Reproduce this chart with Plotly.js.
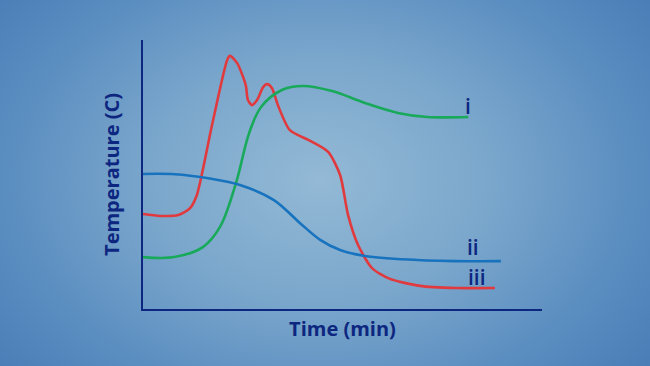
<!DOCTYPE html>
<html>
<head>
<meta charset="utf-8">
<script src="https://cdn.plot.ly/plotly-3.0.1.min.js"></script>
<style>
html,body{margin:0;padding:0;width:650px;height:366px;overflow:hidden;}
body{background:radial-gradient(ellipse 420px 300px at 320px 180px,#93b9d5 0%,#7ba7cc 40%,#5a8dc0 75%,#4a7db6 100%);}
#chart{width:650px;height:366px;}
</style>
</head>
<body>
<div id="chart"></div>
<script>
// Curves (x: time units 0-100, y: temperature units 0-100)
const redX   = [0, 4.3, 8.8, 11.8, 13.5, 17.3, 21.1, 21.8, 23.6, 25.1, 25.8, 26.3, 27.3, 28.6, 30.1, 31.1, 32.3, 33.8, 36.8, 41.9, 46.4, 49.4, 51.4, 53.9, 57.4, 61.9, 69.4, 78.4, 88.2];
const redY   = [35.3, 34.6, 34.9, 37.5, 42.4, 68.4, 92.6, 94.1, 91.4, 86.2, 82.9, 77.7, 75.8, 77.7, 82.5, 83.6, 82.2, 75.8, 66.5, 62.5, 58.4, 49.8, 34.9, 23.8, 15.2, 11.2, 8.6, 7.8, 7.8];
const greenX = [0, 7.8, 15, 19.3, 23.3, 26.6, 29.6, 34.8, 40.1, 47.4, 55.6, 63.9, 71.2, 81.5];
const greenY = [19.3, 19.3, 23.0, 30.5, 46.8, 65.4, 75.1, 81.4, 82.9, 81.0, 76.6, 72.9, 71.4, 71.4];
const blueX  = [0, 8, 16, 24.3, 32.8, 39.3, 44.4, 49.4, 55.6, 65, 78, 89.7];
const blueY  = [50.2, 50.1, 48.7, 46.1, 40.5, 32.0, 25.7, 21.9, 19.7, 18.5, 17.8, 17.8];
const labelText = ["i", "ii", "iii"];
const labelX = [81.5, 82.7, 83.7];
const labelY = [75.5, 23.0, 11.9];

const navy = "#0d2680";
const traces = [
  {x: redX, y: redY, mode: "lines", line: {color: "#e03a3e", width: 2.6, shape: "spline", smoothing: 0.7}, hoverinfo: "skip"},
  {x: greenX, y: greenY, mode: "lines", line: {color: "#18a95a", width: 2.6, shape: "spline", smoothing: 1}, hoverinfo: "skip"},
  {x: blueX, y: blueY, mode: "lines", line: {color: "#1873be", width: 2.6, shape: "spline", smoothing: 1}, hoverinfo: "skip"}
];
const annotations = labelText.map((t, i) => ({
  x: labelX[i], y: labelY[i], xref: "x", yref: "y", text: t, showarrow: false,
  font: {family: "Open Sans, sans-serif", size: 21, color: navy, weight: 600}
}));
const layout = {
  width: 650, height: 366,
  margin: {l: 143, r: 108, t: 40, b: 57},
  paper_bgcolor: "rgba(0,0,0,0)", plot_bgcolor: "rgba(0,0,0,0)",
  showlegend: false,
  xaxis: {range: [0, 100], showgrid: false, zeroline: false, showticklabels: false, ticks: "",
          showline: true, linecolor: navy, linewidth: 2, fixedrange: true,
          title: {text: "Time (min)", standoff: 12, font: {family: "Open Sans, sans-serif", size: 20, color: navy, weight: 700}}},
  yaxis: {range: [0, 100], showgrid: false, zeroline: false, showticklabels: false, ticks: "",
          showline: true, linecolor: navy, linewidth: 2, fixedrange: true,
          title: {text: "Temperature (C)", standoff: 16, font: {family: "Open Sans, sans-serif", size: 20, color: navy, weight: 700}}},
  annotations: annotations
};
Plotly.newPlot("chart", traces, layout, {displayModeBar: false, staticPlot: true});
</script>
</body>
</html>
